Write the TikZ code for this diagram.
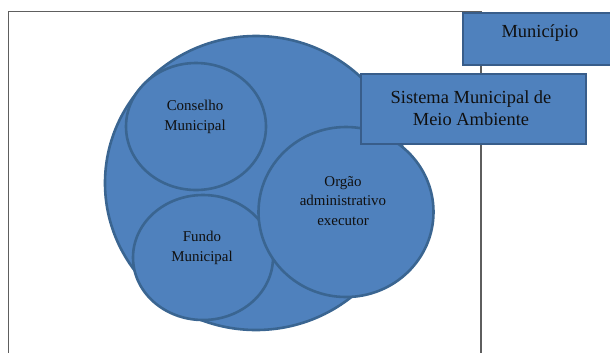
\documentclass[tikz,border=0pt]{standalone}
\usepackage{fontspec}
\setmainfont{Liberation Serif}
\definecolor{fillblue}{HTML}{4F81BD}
\definecolor{edgeblue}{HTML}{3A6591}
\definecolor{boxedge}{HTML}{385D8A}
\definecolor{framegray}{HTML}{5E5E5E}
\definecolor{txt}{HTML}{101010}
\begin{document}
\begin{tikzpicture}[x=1bp,y=-1bp,
  bubble/.style={fill=fillblue,draw=edgeblue,line width=2.6bp},
  boxstyle/.style={fill=fillblue,draw=boxedge,line width=2.2bp},
  smalltxt/.style={text=txt,font=\fontsize{15}{20}\selectfont,align=center,inner sep=0pt},
  bigtxt/.style={text=txt,font=\fontsize{18.5}{22}\selectfont,align=center,inner sep=0pt}]
\useasboundingbox (0,0) rectangle (610,352);
% frame
\draw[framegray,line width=1.3bp] (8.5,400) -- (8.5,11.5) -- (481,11.5) -- (481,400);
% big shape and circles
\draw[bubble] (256,183) ellipse [x radius=151, y radius=147];
\draw[bubble] (196,126.5) ellipse [x radius=70, y radius=63.5];
\draw[bubble] (203,257.5) ellipse [x radius=70, y radius=62.5];
\draw[bubble] (346,212) ellipse [x radius=87.5, y radius=85];
\node[smalltxt] (conselho) at (195,117) {Conselho\\Municipal};
\node[smalltxt] (fundo) at (202,247.5) {Fundo\\Municipal};
\node[smalltxt] (orgao) at (343,201) {Orgão\\administrativo\\executor};
% boxes
\node[boxstyle,minimum width=154bp,minimum height=52bp,anchor=north west,inner sep=0pt] (munbox) at (462,11.5) {};
\node[bigtxt] (mun) at (540,33) {Município};
\node[boxstyle,minimum width=225bp,minimum height=70bp,anchor=north west,inner sep=0pt] (smmabox) at (360,73) {};
\node[bigtxt] (smma) at (471,108) {Sistema Municipal de\\Meio Ambiente};
\end{tikzpicture}
\end{document}
